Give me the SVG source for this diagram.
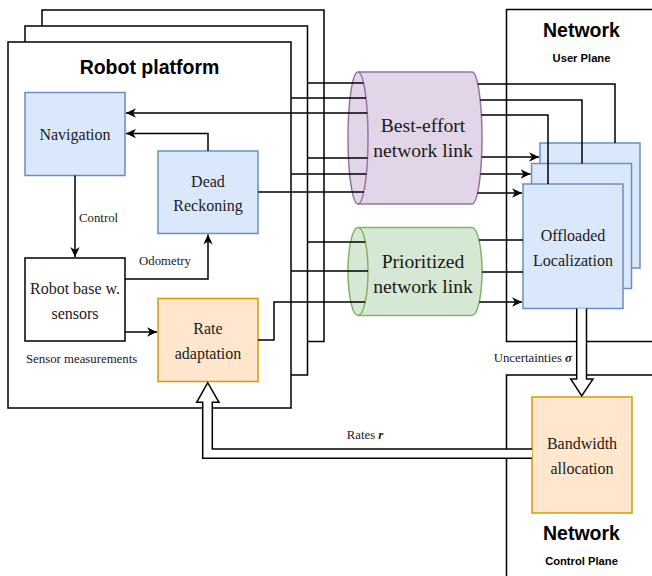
<svg xmlns="http://www.w3.org/2000/svg" width="652" height="576" viewBox="0 0 652 576">
<style>
.box{fill:#fff;stroke:#000;stroke-width:1.5}
.blue{fill:#dae8fc;stroke:#6c8ebf;stroke-width:1.5}
.orange{fill:#ffe6cc;stroke:#d79b00;stroke-width:1.5}
.plain{fill:#fff;stroke:#000;stroke-width:1.5}
.ln{fill:none;stroke:#000;stroke-width:1.5}
.hollow{fill:#fff;stroke:#000;stroke-width:1.5;stroke-linejoin:miter}
.lbl{font-family:"Liberation Serif","Times New Roman",serif;font-size:16px;fill:#1a1a1a;text-anchor:middle}
.cyl{font-family:"Liberation Serif","Times New Roman",serif;font-size:19.6px;fill:#1a1a1a;text-anchor:middle}
.edge{font-family:"Liberation Serif","Times New Roman",serif;font-size:12.8px;fill:#1a1a1a}
.title{font-family:"Liberation Sans",Arial,sans-serif;font-size:19.5px;font-weight:bold;fill:#000;text-anchor:middle}
.sub{font-family:"Liberation Sans",Arial,sans-serif;font-size:11.2px;font-weight:bold;fill:#000;text-anchor:middle}
</style>
<defs>
<marker id="arr" markerWidth="11" markerHeight="10" refX="10" refY="5" orient="auto" markerUnits="userSpaceOnUse">
<path d="M10,5 L0,0.3 L3,5 L0,9.7 Z" fill="#000"/>
</marker>
</defs>

<g id="platform-back"><rect class="box" x="42" y="10" width="282" height="331.5"/></g>
<g id="platform-middle"><rect class="box" x="25" y="26" width="282.5" height="349"/></g>
<g id="platform-front">
<rect class="box" x="8" y="42" width="283" height="366"/>
<text class="title" x="149.5" y="74">Robot platform</text>
</g>

<g id="network-user-plane">
<rect class="box" x="506.5" y="9.5" width="170" height="332"/>
<text class="title" x="581.5" y="36.5">Network</text>
<text class="sub" x="581.5" y="62">User Plane</text>
</g>
<g id="network-control-plane">
<rect class="box" x="506.5" y="375" width="170" height="230"/>
<text class="title" x="581.5" y="540">Network</text>
<text class="sub" x="581.5" y="565">Control Plane</text>
</g>

<g id="navigation">
<rect class="blue" x="25" y="92.5" width="100" height="83"/>
<text class="lbl" x="75" y="139.5">Navigation</text>
</g>
<g id="dead-reckoning">
<rect class="blue" x="158" y="151" width="100" height="82.5"/>
<text class="lbl" x="208" y="186.5">Dead</text>
<text class="lbl" x="208" y="211">Reckoning</text>
</g>
<g id="robot-base">
<rect class="plain" x="25" y="258" width="100" height="83"/>
<text class="lbl" x="75" y="294">Robot base w.</text>
<text class="lbl" x="75" y="319">sensors</text>
</g>
<g id="rate-adaptation">
<rect class="orange" x="158" y="298.5" width="100" height="83"/>
<text class="lbl" x="208" y="334">Rate</text>
<text class="lbl" x="208" y="359">adaptation</text>
</g>

<g id="best-effort-link">
<path d="M358,72 H472 A10,66 0 0 1 472,204 H358 A10,66 0 0 1 358,72 Z" fill="#e1d5e7" stroke="#9673a6" stroke-width="1.5"/>
<path d="M358,72 A10,66 0 0 1 358,204" fill="none" stroke="#9673a6" stroke-width="1.5"/>
<text class="cyl" x="423" y="132">Best-effort</text>
<text class="cyl" x="423" y="157">network link</text>
</g>
<g id="prioritized-link">
<path d="M358,227.5 H472 A10,44 0 0 1 472,315.5 H358 A10,44 0 0 1 358,227.5 Z" fill="#d5e8d4" stroke="#82b366" stroke-width="1.5"/>
<path d="M358,227.5 A10,44 0 0 1 358,315.5" fill="none" stroke="#82b366" stroke-width="1.5"/>
<text class="cyl" x="423" y="268">Prioritized</text>
<text class="cyl" x="423" y="293">network link</text>
</g>

<g id="offloaded-localization">
<rect class="blue" x="540" y="143" width="100" height="125"/>
<rect class="blue" x="531.5" y="163.5" width="100" height="125"/>
<rect class="blue" x="523" y="184" width="100" height="124.5"/>
<text class="lbl" x="573" y="241">Offloaded</text>
<text class="lbl" x="573" y="266">Localization</text>
</g>

<g id="bandwidth-allocation">
<rect class="orange" x="532" y="397" width="100" height="116"/>
<text class="lbl" x="582" y="449">Bandwidth</text>
<text class="lbl" x="582" y="474">allocation</text>
</g>

<g id="connectors">
<!-- internal front -->
<path class="ln" d="M75,175.5 V257" marker-end="url(#arr)"/>
<path class="ln" d="M208,151 V133.5 H126" marker-end="url(#arr)"/>
<path class="ln" d="M125,279 H208 V234.5" marker-end="url(#arr)"/>
<path class="ln" d="M125,332 H157" marker-end="url(#arr)"/>
<!-- front external -->
<path class="ln" d="M367.3,113 H126" marker-end="url(#arr)"/>
<path class="ln" d="M548,184 V115 H481.4"/>
<path class="ln" d="M258,192 H363.8"/>
<path class="ln" d="M477.5,193 H522" marker-end="url(#arr)"/>
<path class="ln" d="M258,340 H274 V302 H365.2"/>
<path class="ln" d="M479.2,302 H522" marker-end="url(#arr)"/>
<!-- middle external -->
<path class="ln" d="M291,98 H366"/>
<path class="ln" d="M582,163.5 V100 H480.2"/>
<path class="ln" d="M291,174 H366.4"/>
<path class="ln" d="M480.4,174 H530.5" marker-end="url(#arr)"/>
<path class="ln" d="M291,271 H368"/>
<path class="ln" d="M482,272 H523"/>
<!-- back external -->
<path class="ln" d="M307.5,83 H363.5"/>
<path class="ln" d="M615,143 V84 H477.8"/>
<path class="ln" d="M307.5,158 H367.5"/>
<path class="ln" d="M481.6,157 H539" marker-end="url(#arr)"/>
<path class="ln" d="M307.5,242 H365.4"/>
<path class="ln" d="M479,240 H523"/>
<!-- hollow arrows -->
<path class="hollow" d="M576.7,308.5 V379 H570.7 L581.7,396 L593,379 H586.5 V308.5"/>
<path class="hollow" d="M532,449 H212.3 V402.3 H219 L207.7,382.7 L196.7,402.3 H202.7 V458.3 H532"/>
<!-- edge labels -->
<text class="edge" x="79" y="222">Control</text>
<text class="edge" x="139" y="264.5">Odometry</text>
<text class="edge" x="26" y="363">Sensor measurements</text>
<text class="edge" x="572" y="362" text-anchor="end">Uncertainties <tspan font-weight="bold" font-style="italic">σ</tspan></text>
<text class="edge" x="365" y="439" text-anchor="middle">Rates <tspan font-weight="bold" font-style="italic">r</tspan></text>
</g>
</svg>
